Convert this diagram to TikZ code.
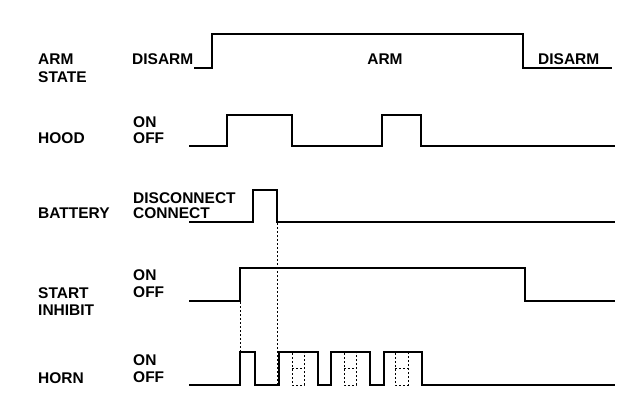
\documentclass[tikz,border=0pt]{standalone}
\usepackage{fontspec}
\setmainfont{Liberation Sans}
\begin{document}
\begin{tikzpicture}[x=1pt,y=-1pt,
  lbl/.style={anchor=west,inner sep=0pt,font=\fontsize{15.5}{18}\selectfont\bfseries},
  wave/.style={line width=2.6pt,line join=miter,line cap=butt},
  guide/.style={line width=0.8pt,dash pattern=on 2pt off 2pt}]
\useasboundingbox (0,0) rectangle (640,420);
% ARM STATE
\node[lbl] (armA) at (38,59) {ARM};
\node[lbl] (armB) at (38,77) {STATE};
\node[lbl] (disL) at (132,59) {DISARM};
\node[lbl,anchor=center] (armM) at (385,59) {ARM};
\node[lbl] (disR) at (538,59) {DISARM};
\draw[wave] (194,68) -- (212,68) -- (212,34) -- (523,34) -- (523,68) -- (612,68);
% HOOD
\node[lbl] (hood) at (38,138) {HOOD};
\node[lbl] (hOn) at (133,122) {ON};
\node[lbl] (hOff) at (133,138) {OFF};
\draw[wave] (189,146) -- (227,146) -- (227,115) -- (292,115) -- (292,146) -- (382,146) -- (382,115) -- (421,115) -- (421,146) -- (615,146);
% BATTERY
\node[lbl] (bat) at (38,213) {BATTERY};
\node[lbl] (bDis) at (133,198) {DISCONNECT};
\node[lbl] (bCon) at (133,213) {CONNECT};
\draw[wave] (189,222) -- (253,222) -- (253,190) -- (277,190) -- (277,222) -- (615,222);
% START INHIBIT
\node[lbl] (sA) at (38,293) {START};
\node[lbl] (sB) at (38,310) {INHIBIT};
\node[lbl] (sOn) at (133,275) {ON};
\node[lbl] (sOff) at (133,292) {OFF};
\draw[wave] (189,301) -- (240,301) -- (240,268) -- (525,268) -- (525,301) -- (615,301);
% HORN
\node[lbl] (horn) at (38,378) {HORN};
\node[lbl] (hoOn) at (133,360) {ON};
\node[lbl] (hoOff) at (133,377) {OFF};
\draw[wave] (189,385) -- (240,385) -- (240,352) -- (255,352) -- (255,385) -- (279,385) -- (279,352) -- (318,352) -- (318,385) -- (331,385) -- (331,352) -- (370,352) -- (370,385) -- (384,385) -- (384,352) -- (422,352) -- (422,385) -- (615,385);
% guides
\coordinate (g1a) at (277,223);
\coordinate (g1b) at (277,385);
\coordinate (g2a) at (240,302);
\coordinate (g2b) at (240,352);
\draw[guide] (g1a) -- (g1b);
\draw[guide] (g2a) -- (g2b);
\foreach \xa/\xb in {292/304,344/356,395/408}{
  \draw[guide] (\xa,353) -- (\xa,385) -- (\xb,385) -- (\xb,353);
  \draw[guide] (\xa,368) -- (\xb,368);
}
\end{tikzpicture}
\end{document}
